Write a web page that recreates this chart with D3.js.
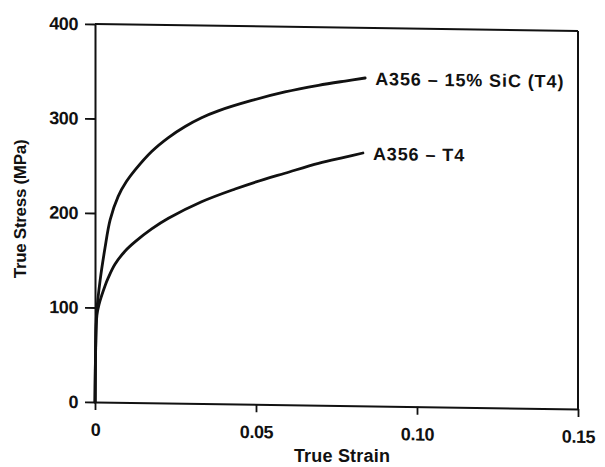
<!DOCTYPE html>
<html>
<head>
<meta charset="utf-8">
<script src="https://cdn.jsdelivr.net/npm/d3@7"></script>
<style>
  html, body { margin: 0; padding: 0; background: #fff; }
  svg text { font-family: "Liberation Sans", Arial, Helvetica, sans-serif; fill: #111; }
</style>
</head>
<body>
<svg id="chart" width="605" height="467"></svg>
<script>
// True stress / true strain curves for A356 alloy, with and without SiC reinforcement
const xTicks = [0, 0.05, 0.10, 0.15];
const xTickLabels = ["0", "0.05", "0.10", "0.15"];
const yTicks = [0, 100, 200, 300, 400];

const strainSiC = [0, 0.0002, 0.0005, 0.0016, 0.0031, 0.0047, 0.0072, 0.0098, 0.0124, 0.0176, 0.0228, 0.028, 0.0331, 0.0383, 0.0487, 0.059, 0.0694, 0.0777, 0.0839];
const stressSiC = [0, 58, 94, 129, 163, 193, 218, 234, 246, 266, 281, 293, 302.5, 310, 321.5, 331, 338.5, 343.5, 347];

const strainT4 = [0, 0.0002, 0.0006, 0.0013, 0.0021, 0.0031, 0.0041, 0.0062, 0.0093, 0.0124, 0.0176, 0.0228, 0.0331, 0.0435, 0.0528, 0.059, 0.0694, 0.0777, 0.0832];
const stressT4 = [0, 55, 92, 104, 113, 123, 131.5, 146, 160, 170, 184, 195.5, 213.5, 227.5, 238.5, 245, 256, 263, 267.6];

const seriesNames = ["A356 \u2013 15% SiC (T4)", "A356 \u2013 T4"];

const svg = d3.select("#chart");
const plotLeft = 95, plotRight = 578, plotTop = 24, plotBottom = 402;
const skew = 0.83; // degrees, slight tilt of the whole figure
const k = Math.tan(skew * Math.PI / 180);

const g = svg.append("g")
  .attr("transform", `translate(0,${-plotLeft * k}) skewY(${skew})`);

const x = d3.scaleLinear().domain([0, 0.15]).range([plotLeft, plotRight]);
const y = d3.scaleLinear().domain([0, 400]).range([plotBottom, plotTop]);

const font = { size: 18, weight: "bold" };

// axes
const xAxis = g.append("g").attr("transform", `translate(0,${plotBottom})`)
  .call(d3.axisBottom(x).tickValues(xTicks).tickFormat((d, i) => xTickLabels[i]).tickSizeInner(8).tickSizeOuter(0).tickPadding(13));
const yAxis = g.append("g").attr("transform", `translate(${plotLeft},0)`)
  .call(d3.axisLeft(y).tickValues(yTicks).tickSizeInner(10).tickSizeOuter(0).tickPadding(7));

[xAxis, yAxis].forEach(a => {
  a.select(".domain").attr("stroke", "#111").attr("stroke-width", 2);
  a.selectAll(".tick line").attr("stroke", "#111").attr("stroke-width", 1.8);
  a.selectAll(".tick text")
    .attr("font-family", "Liberation Sans, Arial, sans-serif")
    .attr("font-size", font.size).attr("font-weight", font.weight)
    .attr("letter-spacing", -0.4).attr("fill", "#111");
});

// frame: top and right edges
g.append("line").attr("x1", plotLeft).attr("x2", plotRight).attr("y1", y(400)).attr("y2", y(400))
  .attr("stroke", "#111").attr("stroke-width", 2);
g.append("line").attr("x1", plotRight).attr("x2", plotRight).attr("y1", y(400)).attr("y2", y(0))
  .attr("stroke", "#111").attr("stroke-width", 2);

// curves
const line = d3.line().x(d => x(d[0])).y(d => y(d[1])).curve(d3.curveCatmullRom.alpha(0.5));
const series = [
  { name: seriesNames[0], pts: strainSiC.map((s, i) => [s, stressSiC[i]]) },
  { name: seriesNames[1], pts: strainT4.map((s, i) => [s, stressT4[i]]) }
];
series.forEach(s => {
  g.append("path").attr("d", line(s.pts)).attr("fill", "none")
    .attr("stroke", "#111").attr("stroke-width", 2.8).attr("stroke-linecap", "round");
  const last = s.pts[s.pts.length - 1];
  g.append("text").attr("x", x(last[0]) + 10).attr("y", y(last[1]))
    .attr("dy", "0.38em")
    .attr("font-size", font.size).attr("font-weight", font.weight).attr("letter-spacing", 0.9)
    .text(s.name);
});

// axis titles
svg.append("text").attr("x", 342).attr("y", 462).attr("text-anchor", "middle")
  .attr("font-size", font.size).attr("font-weight", font.weight).attr("letter-spacing", 0.2)
  .text("True Strain");
svg.append("text").attr("transform", "translate(26,209) rotate(-90)").attr("text-anchor", "middle")
  .attr("font-size", 17).attr("font-weight", font.weight).attr("letter-spacing", -0.3)
  .text("True Stress (MPa)");
</script>
</body>
</html>
